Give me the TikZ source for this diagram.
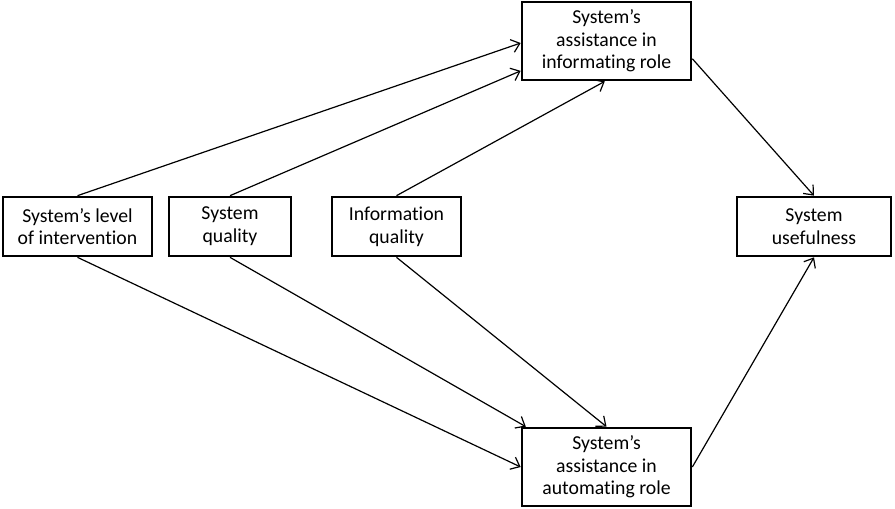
\documentclass[tikz,border=0pt]{standalone}
\usepackage{fontspec}
\setmainfont{Carlito}[Ligatures=NoCommon]
\usetikzlibrary{arrows.meta,calc}
\begin{document}
\begin{tikzpicture}[x=0.75pt,y=-0.75pt,
  box/.style={draw,line width=2pt,rectangle,align=center,inner sep=1pt,
    font=\fontsize{14.8}{17}\selectfont},
  conn/.style={line width=0.9pt,-{Straight Barb[length=6pt,width=10pt]}}]
\useasboundingbox (0,0) rectangle (895,508);
\node[box,minimum width=126.75pt,minimum height=58.5pt] (top) at (606.5,41) {System’s\\assistance in\\informating role};
\node[box,minimum width=126.75pt,minimum height=58.5pt] (bot) at (606.5,467) {System’s\\assistance in\\automating role};
\node[box,minimum width=111.75pt,minimum height=44.25pt] (lv) at (77.5,226.5) {System’s level\\of intervention};
\node[box,minimum width=91.5pt,minimum height=44.25pt] (sq) at (230,226.5) {System\\quality};
\node[box,minimum width=96.75pt,minimum height=44.25pt] (iq) at (396.5,226.5) {Information\\quality};
\node[box,minimum width=115.5pt,minimum height=44.25pt] (us) at (814,226.5) {System\\usefulness};
\draw[conn] (lv.north) -- ($(top.north west)!0.525!(top.south west)$);
\draw[conn] (sq.north) -- ($(top.north west)!0.87!(top.south west)$);
\draw[conn] (iq.north) -- ($(top.south west)!0.49!(top.south east)$);
\draw[conn] ($(top.north east)!0.72!(top.south east)$) -- (us.north);
\draw[conn] (lv.south) -- (bot.west);
\draw[conn] (sq.south) -- ($(bot.north west)!0.03!(bot.north east)$);
\draw[conn] (iq.south) -- (bot.north);
\draw[conn] (bot.east) -- (us.south);
\end{tikzpicture}
\end{document}
